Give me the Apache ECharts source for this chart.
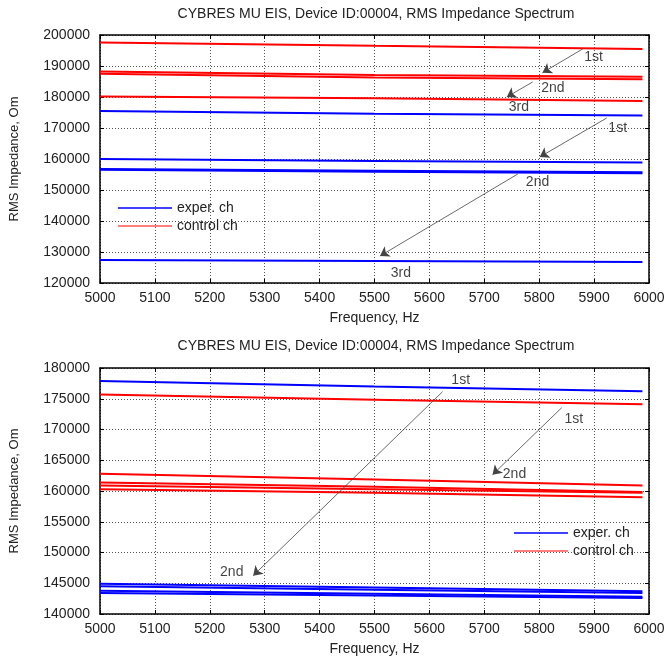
<!DOCTYPE html>
<html>
<head>
<meta charset="utf-8">
<script src="https://cdn.jsdelivr.net/npm/echarts@6/dist/echarts.min.js"></script>
<style>
  html, body { margin: 0; padding: 0; background: #fff; }
  #chart { width: 669px; height: 661px; }
</style>
</head>
<body>
<div id="chart"></div>
<script>
// Frequency samples (Hz) at which each trace is read
const freqs = [5000, 5500, 5988];

// Upper panel: control channel traces (Om)
const upCtrl1 = [197600, 196500, 195500];
const upCtrl2 = [188200, 187100, 186550];
const upCtrl3 = [187500, 186300, 185700];
const upCtrl4 = [180200, 179600, 178700];
// Upper panel: experimental channel traces (Om)
const upExp1 = [175500, 174600, 174000];
const upExp2 = [160000, 159350, 158850];
const upExp3 = [156800, 156200, 155700];
const upExp4 = [156500, 155900, 155400];
const upExp5 = [127400, 127100, 126800];

// Lower panel: experimental channel traces (Om)
const lowExp1 = [177900, 177000, 176200];
const lowExp2 = [144900, 144300, 143700];
const lowExp3 = [144500, 143950, 143400];
const lowExp4 = [143800, 143300, 142800];
const lowExp5 = [143400, 143000, 142600];
// Lower panel: control channel traces (Om)
const lowCtrl1 = [175700, 174850, 174100];
const lowCtrl2 = [162800, 161850, 160900];
const lowCtrl3 = [161400, 160700, 159850];
const lowCtrl4 = [160900, 160300, 159700];
const lowCtrl5 = [160300, 159700, 159000];

// Axis ranges / ticks
const xRange = [5000, 6000, 100];
const upRange = [120000, 200000, 10000];
const lowRange = [140000, 180000, 5000];

// Run annotations: [freq, value, text]
const upNotes = [
  [5899, 192900, '1st'], [5825, 182900, '2nd'], [5763, 176800, '3rd'],
  [5943, 170000, '1st'], [5797, 152600, '2nd'], [5548, 123200, '3rd']
];
const upArrows = [
  [[5879, 195480], [5806, 187840]],
  [[5788, 184840], [5741, 180000]],
  [[5923, 173230], [5801, 160650]],
  [[5761, 155160], [5510, 128710]]
];
const lowNotes = [
  [5657, 178100, '1st'], [5240, 146880, '2nd'],
  [5863, 171760, '1st'], [5755, 162810, '2nd']
];
const lowArrows = [
  [[5624, 176150], [5279, 146230]],
  [[5841, 173545], [5715, 162650]]
];

const TITLE = 'CYBRES MU EIS, Device ID:00004, RMS Impedance Spectrum';
const EXP = 'exper. ch';
const CTRL = 'control ch';
const BLUE = '#0000ff';
const RED = '#ff0000';
const FONT = "'Liberation Sans', Arial, Helvetica, sans-serif";

const chart = echarts.init(document.getElementById('chart'), null, { renderer: 'canvas' });

function trace(name, color, vals, gi) {
  return {
    type: 'line', name: name, xAxisIndex: gi * 2, yAxisIndex: gi * 2,
    data: freqs.map((f, i) => [f, vals[i]]),
    showSymbol: false, symbol: 'none', smooth: false,
    lineStyle: { color: color, width: 2 }, itemStyle: { color: color },
    silent: true, z: 3
  };
}

function notes(list, arrows, gi) {
  return {
    type: 'scatter', xAxisIndex: gi * 2, yAxisIndex: gi * 2,
    data: list, symbolSize: 0, silent: true, z: 5,
    label: {
      show: true, position: 'inside', formatter: p => p.value[2],
      fontFamily: FONT, fontSize: 14, color: '#111'
    },
    markLine: {
      silent: true, animation: false,
      symbol: ['none', 'arrow'], symbolSize: 9,
      label: { show: false },
      lineStyle: { type: 'solid', color: '#444', width: 0.8 },
      itemStyle: { color: '#333' },
      data: arrows.map(a => [{ coord: a[0] }, { coord: a[1] }])
    }
  };
}

const plain = v => String(v);

function xAxes(gi) {
  const base = {
    type: 'value', gridIndex: gi, min: xRange[0], max: xRange[1], interval: xRange[2]
  };
  return [
    Object.assign({}, base, {
      position: 'bottom',
      name: 'Frequency, Hz', nameLocation: 'middle', nameGap: 28,
      nameTextStyle: { fontFamily: FONT, fontSize: 14, color: '#222' },
      axisLine: { show: true, lineStyle: { color: '#000', width: 1.5 } },
      axisTick: { show: true, inside: true, length: 4, lineStyle: { color: '#000' } },
      axisLabel: { fontFamily: FONT, fontSize: 14, color: '#222', margin: 8, formatter: plain },
      splitLine: { show: true, lineStyle: { type: [1, 2], color: '#555', width: 1 } }
    }),
    Object.assign({}, base, {
      position: 'top',
      axisLine: { show: true, lineStyle: { color: '#000', width: 1.5 } },
      axisTick: { show: true, inside: true, length: 4, lineStyle: { color: '#000' } },
      axisLabel: { show: false }, splitLine: { show: false }
    })
  ];
}

function yAxes(gi, r) {
  const base = { type: 'value', gridIndex: gi, min: r[0], max: r[1], interval: r[2] };
  return [
    Object.assign({}, base, {
      position: 'left',
      name: 'RMS Impedance, Om', nameLocation: 'middle', nameGap: 79,
      nameTextStyle: { fontFamily: FONT, fontSize: 13, color: '#222' },
      axisLine: { show: true, lineStyle: { color: '#000', width: 1.5 } },
      axisTick: { show: true, inside: true, length: 4, lineStyle: { color: '#000' } },
      axisLabel: { fontFamily: FONT, fontSize: 14, color: '#222', margin: 10, formatter: plain },
      splitLine: { show: true, lineStyle: { type: [1, 2], color: '#555', width: 1 } }
    }),
    Object.assign({}, base, {
      position: 'right',
      axisLine: { show: true, lineStyle: { color: '#000', width: 1.5 } },
      axisTick: { show: true, inside: true, length: 4, lineStyle: { color: '#000' } },
      axisLabel: { show: false }, splitLine: { show: false }
    })
  ];
}

function legend(left, top) {
  return {
    left: left, top: top, orient: 'vertical', padding: 0, itemGap: 2,
    icon: 'rect', itemWidth: 54, itemHeight: 1.5, itemSpacing: 6,
    textStyle: { fontFamily: FONT, fontSize: 14, color: '#222', lineHeight: 16 },
    data: [
      { name: EXP, itemStyle: { color: BLUE } },
      { name: CTRL, itemStyle: { color: '#ff5555' } }
    ],
    selectedMode: false
  };
}

const series = [
  trace(CTRL, RED, upCtrl1, 0), trace(CTRL, RED, upCtrl2, 0),
  trace(CTRL, RED, upCtrl3, 0), trace(CTRL, RED, upCtrl4, 0),
  trace(EXP, BLUE, upExp1, 0), trace(EXP, BLUE, upExp2, 0),
  trace(EXP, BLUE, upExp3, 0), trace(EXP, BLUE, upExp4, 0),
  trace(EXP, BLUE, upExp5, 0),
  notes(upNotes, upArrows, 0),
  trace(EXP, BLUE, lowExp1, 1), trace(EXP, BLUE, lowExp2, 1),
  trace(EXP, BLUE, lowExp3, 1), trace(EXP, BLUE, lowExp4, 1),
  trace(EXP, BLUE, lowExp5, 1),
  trace(CTRL, RED, lowCtrl1, 1), trace(CTRL, RED, lowCtrl2, 1),
  trace(CTRL, RED, lowCtrl3, 1), trace(CTRL, RED, lowCtrl4, 1),
  trace(CTRL, RED, lowCtrl5, 1),
  notes(lowNotes, lowArrows, 1)
];

chart.setOption({
  animation: false,
  backgroundColor: '#fff',
  title: [
    { text: TITLE, left: 376, top: 7, textAlign: 'center', padding: 0,
      textStyle: { fontFamily: FONT, fontSize: 14, fontWeight: 'normal', color: '#222' } },
    { text: TITLE, left: 376, top: 339, textAlign: 'center', padding: 0,
      textStyle: { fontFamily: FONT, fontSize: 14, fontWeight: 'normal', color: '#222' } }
  ],
  grid: [
    { left: 100, top: 35, width: 549, height: 248, show: false },
    { left: 100, top: 368, width: 549, height: 246, show: false }
  ],
  legend: [legend(118, 200), legend(514, 525)],
  xAxis: xAxes(0).concat(xAxes(1)),
  yAxis: yAxes(0, upRange).concat(yAxes(1, lowRange)),
  series: series
});
</script>
</body>
</html>
